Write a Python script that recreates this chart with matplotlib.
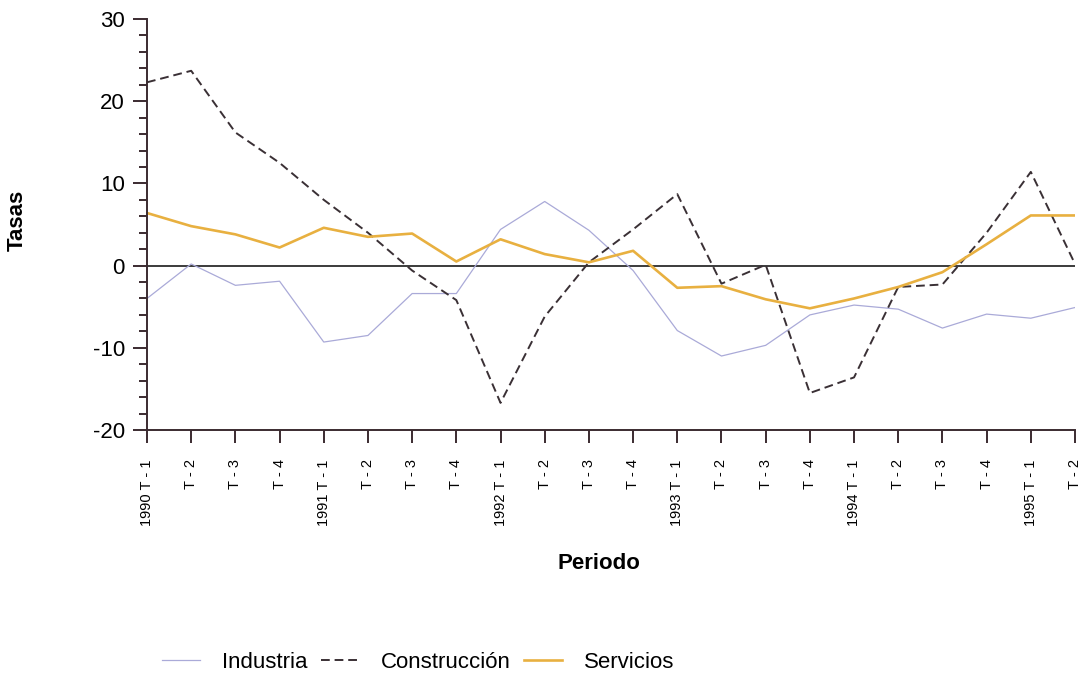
import matplotlib
matplotlib.use("Agg")
import matplotlib.pyplot as plt
from matplotlib.ticker import MultipleLocator

plt.rcParams['font.family'] = ['Liberation Sans', 'DejaVu Sans']
plt.rcParams['axes.unicode_minus'] = False

# datos trimestrales 1990 T-1 .. 1995 T-2
years = ['1990', '1991', '1992', '1993', '1994', '1995']
quarters = ['T - 1', 'T - 2', 'T - 3', 'T - 4']
industria = [-4.0, 0.2, -2.4, -1.9, -9.3, -8.5, -3.4, -3.4, 4.4, 7.8, 4.3,
             -0.6, -7.9, -11.0, -9.7, -6.0, -4.8, -5.3, -7.6, -5.9, -6.4, -5.1]
construccion = [22.3, 23.7, 16.2, 12.5, 8.0, 4.0, -0.6, -4.2, -16.7, -6.2, 0.4,
                4.4, 8.7, -2.2, 0.1, -15.5, -13.6, -2.6, -2.3, 4.0, 11.4, 0.2]
servicios = [6.4, 4.8, 3.8, 2.2, 4.6, 3.5, 3.9, 0.5, 3.2, 1.4, 0.4,
             1.8, -2.7, -2.5, -4.1, -5.2, -4.0, -2.6, -0.8, 2.6, 6.1, 6.1]

labels = []
for y in years:
    for i, q in enumerate(quarters):
        labels.append(y + ' ' + q if i == 0 else q)
labels = labels[:len(industria)]
x = list(range(len(industria)))

axis_col = '#3b2b30'

fig = plt.figure(figsize=(10.83, 6.79), dpi=100)
ax = fig.add_axes([147 / 1083, 1 - 430 / 679, 928 / 1083, 411 / 679])

ax.plot(x, industria, color='#aaaad8', lw=0.9, label='Industria')
ax.plot(x, construccion, color='#3a3035', lw=1.4, linestyle=(0, (4.5, 2.5)),
        label='Construcción')
ax.plot(x, servicios, color='#e8b040', lw=1.9, label='Servicios')
ax.axhline(0, color='#1a1a1a', lw=1.2, zorder=1)

ax.set_xlim(0, len(x) - 1)
ax.set_ylim(-20, 30)
ax.yaxis.set_major_locator(MultipleLocator(10))
ax.yaxis.set_minor_locator(MultipleLocator(2))
ax.set_xticks(x)
ax.set_xticklabels(labels, rotation=90, fontsize=10.5)

for s in ['top', 'right']:
    ax.spines[s].set_visible(False)
for s in ['left', 'bottom']:
    ax.spines[s].set_color(axis_col)
    ax.spines[s].set_linewidth(1.4)

ax.tick_params(axis='y', which='major', length=10, width=1.4, color=axis_col,
               labelsize=16, pad=6)
ax.tick_params(axis='y', which='minor', length=6, width=1.4, color=axis_col)
ax.tick_params(axis='x', length=9, width=1.4, color=axis_col, pad=12)

ax.set_ylabel('Tasas', fontsize=16, fontweight='bold')
ax.yaxis.set_label_coords(-0.129, 0.51)
ax.set_xlabel('Periodo', fontsize=16, fontweight='bold')
ax.xaxis.set_label_coords(0.487, -0.3)

fig.legend(loc='center', bbox_to_anchor=(0.386, 0.024), ncol=3, frameon=False,
           fontsize=16, handlelength=1.7, handletextpad=1.0, columnspacing=0.6)

fig.savefig('out.png', dpi=100)
